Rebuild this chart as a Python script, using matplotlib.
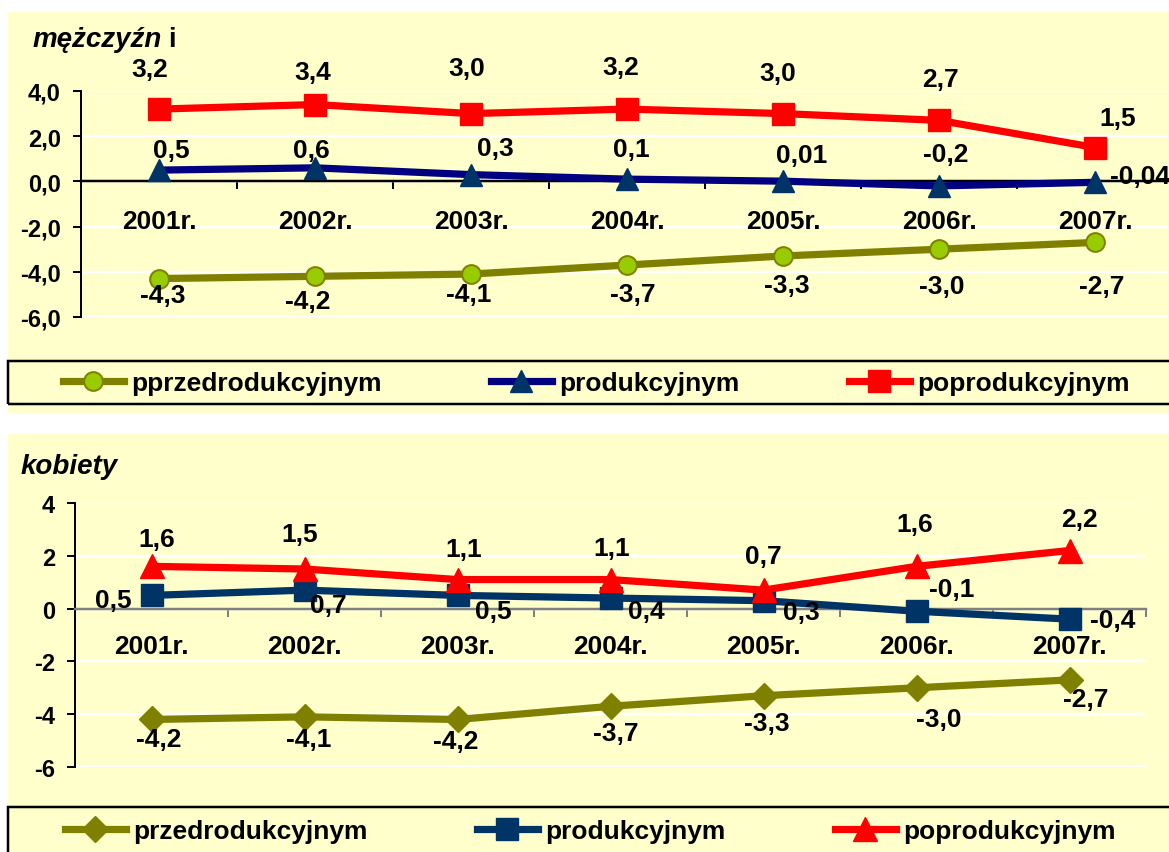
import numpy as np
import matplotlib.pyplot as plt
from matplotlib.patches import Rectangle
from matplotlib.lines import Line2D

plt.rcParams['font.family'] = ['Liberation Sans', 'DejaVu Sans']
plt.rcParams['font.weight'] = 'bold'

W, H, DPI = 1169, 853, 100
BG = '#FFFFCC'
PX = 72 / DPI  # pixels -> points
FS = 19

years = ['2001r.', '2002r.', '2003r.', '2004r.', '2005r.', '2006r.', '2007r.']

# mężczyźni
m_przed = [-4.3, -4.2, -4.1, -3.7, -3.3, -3.0, -2.7]
m_prod = [0.5, 0.6, 0.3, 0.1, 0.01, -0.2, -0.04]
m_poprod = [3.2, 3.4, 3.0, 3.2, 3.0, 2.7, 1.5]
m_names = ['pprzedrodukcyjnym', 'produkcyjnym', 'poprodukcyjnym']
m_yticks = [4, 2, 0, -2, -4, -6]
m_yticklabels = ['4,0', '2,0', '0,0', '-2,0', '-4,0', '-6,0']

# kobiety
k_przed = [-4.2, -4.1, -4.2, -3.7, -3.3, -3.0, -2.7]
k_prod = [0.5, 0.7, 0.5, 0.4, 0.3, -0.1, -0.4]
k_poprod = [1.6, 1.5, 1.1, 1.1, 0.7, 1.6, 2.2]
k_names = ['przedrodukcyjnym', 'produkcyjnym', 'poprodukcyjnym']
k_yticks = [4, 2, 0, -2, -4, -6]
k_yticklabels = ['4', '2', '0', '-2', '-4', '-6']

# data label offsets from marker, in pixels (dx, dy up)
m_off_przed = [(4, -16), (-7, -25), (-2, -20), (6, -29), (4, -29), (3, -37), (7, -44)]
m_off_prod = [(12, 20), (-4, 18), (24, 27), (4, 30), (19, 26), (7, 32), (45, 6)]
m_off_poprod = [(-9, 40), (-2, 33), (-4, 46), (-6, 42), (-5, 41), (1, 41), (23, 30)]
k_off_przed = [(7, -20), (4, -22), (-2, -22), (5, -27), (3, -27), (22, -31), (16, -19)]
k_off_prod = [(-38, -5), (24, -15), (36, -16), (36, -13), (38, -11), (35, 22), (43, -1)]
k_off_poprod = [(5, 27), (-5, 35), (6, 31), (1, 32), (0, 34), (-2, 42), (10, 32)]


def fmt(v):
    s = f'{v:.1f}' if round(v, 1) == v else f'{v:.2f}'
    return s.replace('.', ',')


def fx(px):
    return px / W


def fy(py):
    return 1 - py / H


def add_box(fig, x0, y0, x1, y1, **kw):
    fig.patches.append(Rectangle((fx(x0), fy(y1)), fx(x1) - fx(x0), fy(y0) - fy(y1),
                                 transform=fig.transFigure, **kw))


def setup_axes(ax, yticks, yticklabels, zero_color):
    ax.set_xlim(-0.5, 6.5)
    ax.set_ylim(-6, 4)
    ax.patch.set_alpha(0)
    ax.spines['top'].set_visible(False)
    ax.spines['right'].set_visible(False)
    ax.spines['left'].set_linewidth(2 * PX)
    ax.spines['bottom'].set_position(('data', 0))
    ax.spines['bottom'].set_color(zero_color)
    ax.spines['bottom'].set_linewidth(2.5 * PX)
    ax.set_xticks(np.arange(-0.5, 7, 1))
    ax.set_xticklabels([])
    ax.tick_params(axis='x', direction='out', length=8 * PX, width=2 * PX, color=zero_color)
    ax.set_yticks(yticks)
    ax.set_yticklabels(yticklabels, fontsize=17, fontweight='bold')
    ax.tick_params(axis='y', direction='out', length=8 * PX, width=2 * PX, pad=12 * PX)
    ax.yaxis.grid(True, color='white', linewidth=2.5 * PX)
    ax.set_axisbelow(True)


def label_series(ax, values, offsets):
    for i, (v, (dx, dy)) in enumerate(zip(values, offsets)):
        ax.annotate(fmt(v), xy=(i, v), xytext=(dx * PX, dy * PX), textcoords='offset points',
                    ha='center', va='center', fontsize=FS, fontweight='bold', annotation_clip=False,
                    zorder=10)


def year_labels(ax, dy):
    for i, y in enumerate(years):
        ax.annotate(y, xy=(i, 0), xytext=(0, -dy * PX), textcoords='offset points',
                    ha='center', va='center', fontsize=FS, fontweight='bold', annotation_clip=False)


fig = plt.figure(figsize=(W / DPI, H / DPI), dpi=DPI, facecolor='white')

# panel backgrounds
add_box(fig, 8, 13, 1180, 414, facecolor=BG, edgecolor='none', zorder=-10)
add_box(fig, 8, 435, 1180, 870, facecolor=BG, edgecolor='none', zorder=-10)

x = np.arange(len(years))
LW = 5.2
leg_kw = dict(loc='center left', ncol=3, frameon=False, borderpad=0, borderaxespad=0,
              handlelength=2.3, handletextpad=0.28, columnspacing=4.15,
              prop=dict(size=FS, weight='bold'))

# ---- top: mężczyźni
ax1 = fig.add_axes([fx(81), fy(318), (1173 - 81) / W, (318 - 92) / H])
setup_axes(ax1, m_yticks, m_yticklabels, 'black')
st_m = [
    dict(color='#808000', marker='o', ms=13.5, mfc='#99CC00', mec='#808000', mew=2 * PX),
    dict(color='#000080', marker='^', ms=16, mfc='#003366', mec='#003366'),
    dict(color='#FF0000', marker='s', ms=16, mfc='#FF0000', mec='#FF0000'),
]
for vals, st in zip([m_przed, m_prod, m_poprod], st_m):
    ax1.plot(x, vals, lw=LW, clip_on=False, zorder=5, **st)
label_series(ax1, m_przed, m_off_przed)
label_series(ax1, m_prod, m_off_prod)
label_series(ax1, m_poprod, m_off_poprod)
year_labels(ax1, 40)

fig.text(fx(33), fy(40), 'mężczyźn', fontsize=20, fontweight='bold', style='italic', va='center')
fig.text(fx(168), fy(40), 'i', fontsize=20, fontweight='bold', va='center')

add_box(fig, 8, 362, 1180, 405, facecolor='none', edgecolor='black', linewidth=2.5 * PX, zorder=5)
h1 = [Line2D([], [], lw=LW, **st) for st in st_m]
fig.legend(h1, m_names, bbox_to_anchor=(fx(63), fy(384)), **leg_kw)

# ---- bottom: kobiety
ax2 = fig.add_axes([fx(75), fy(768), (1146 - 75) / W, (768 - 504) / H])
setup_axes(ax2, k_yticks, k_yticklabels, '#808080')
st_k = [
    dict(color='#808000', marker='D', ms=13, mfc='#808000', mec='#808000'),
    dict(color='#003366', marker='s', ms=16, mfc='#003366', mec='#003366'),
    dict(color='#FF0000', marker='^', ms=17, mfc='#FF0000', mec='#FF0000'),
]
for vals, st in zip([k_przed, k_prod, k_poprod], st_k):
    ax2.plot(x, vals, lw=LW, clip_on=False, zorder=5, **st)
label_series(ax2, k_przed, k_off_przed)
label_series(ax2, k_prod, k_off_prod)
label_series(ax2, k_poprod, k_off_poprod)
year_labels(ax2, 37)

fig.text(fx(21), fy(467), 'kobiety', fontsize=20, fontweight='bold', style='italic', va='center')

add_box(fig, 8, 808, 1180, 870, facecolor='none', edgecolor='black', linewidth=2.5 * PX, zorder=5)
h2 = [Line2D([], [], lw=LW, **st) for st in st_k]
fig.legend(h2, k_names, bbox_to_anchor=(fx(65), fy(832)), **leg_kw)

fig.savefig('out.png', dpi=DPI)
